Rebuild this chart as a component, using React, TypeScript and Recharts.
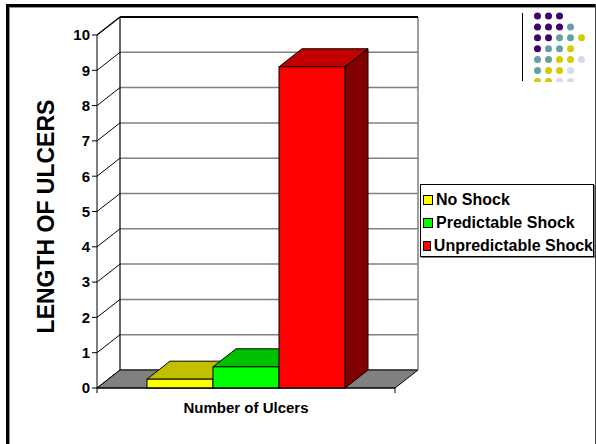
import React from 'react';
import {
  BarChart,
  Bar,
  XAxis,
  YAxis,
  CartesianGrid,
  ReferenceArea,
  Legend,
} from 'recharts';

// ---------- data ----------
const categories = ['Number of Ulcers'];
const seriesNames = ['No Shock', 'Predictable Shock', 'Unpredictable Shock'];
const noShock = [0.25];
const predictableShock = [0.6];
const unpredictableShock = [9.1];
const yTicks = [0, 1, 2, 3, 4, 5, 6, 7, 8, 9, 10];

const data = categories.map((name, i) => ({
  name,
  noShock: noShock[i],
  predictable: predictableShock[i],
  unpredictable: unpredictableShock[i],
}));

// ---------- styling ----------
const FONT = '"Liberation Sans", Arial, Helvetica, sans-serif';
const DX = 23;
const DY = -18;

const faces = {
  noShock: { front: '#ffff00', top: '#c0c000', side: '#808000' },
  predictable: { front: '#00ff00', top: '#00c000', side: '#008000' },
  unpredictable: { front: '#ff0000', top: '#c00000', side: '#800000' },
};

const make3DBar = (c: { front: string; top: string; side: string }) => (props: any) => {
  const { x, y, width, height } = props;
  if (x == null || y == null || !width || height == null) return <g />;
  const top = `${x},${y} ${x + DX},${y + DY} ${x + width + DX},${y + DY} ${x + width},${y}`;
  const side = `${x + width},${y} ${x + width + DX},${y + DY} ${x + width + DX},${y + height + DY} ${x + width},${y + height}`;
  return (
    <g>
      <polygon points={side} fill={c.side} stroke="#000" strokeWidth={1} strokeLinejoin="round" />
      <polygon points={top} fill={c.top} stroke="#000" strokeWidth={1} strokeLinejoin="round" />
      <rect x={x} y={y} width={width} height={height} fill={c.front} stroke="#000" strokeWidth={1} />
    </g>
  );
};

const gridLine = (props: any) => {
  const { x1, x2, y1, index } = props;
  return (
    <g key={`gl-${index}`}>
      <line x1={x1} y1={y1} x2={x1 + DX} y2={y1 + DY} stroke="#000" strokeWidth={1} />
      <line x1={x1 + DX} y1={y1 + DY} x2={x2 + DX} y2={y1 + DY} stroke="#808080" strokeWidth={1.5} />
    </g>
  );
};

const wallShape = (props: any) => {
  const { x, y, width: w, height: h } = props;
  if (x == null || y == null) return <g />;
  const b = y + h;
  const floor = `${x},${b} ${x + w},${b} ${x + w + DX},${b + DY} ${x + DX},${b + DY}`;
  return (
    <g>
      <polygon points={floor} fill="#808080" stroke="#000" strokeWidth={1} />
      <line x1={x + DX} y1={y + DY} x2={x + DX} y2={b + DY} stroke="#000" strokeWidth={1.2} />
      <line x1={x + w + DX} y1={y + DY} x2={x + w + DX} y2={b + DY} stroke="#808080" strokeWidth={1.5} />
      <line x1={x + DX} y1={y + DY} x2={x + w + DX} y2={y + DY} stroke="#000" strokeWidth={1.8} />
      <line x1={x} y1={y} x2={x + DX} y2={y + DY} stroke="#000" strokeWidth={1.2} />
      <line x1={x} y1={b} x2={x} y2={b + 5} stroke="#000" strokeWidth={1} />
      <line x1={x + w} y1={b} x2={x + w} y2={b + 5} stroke="#000" strokeWidth={1} />
    </g>
  );
};

const yLabel = (props: any) => {
  const vb = props.viewBox || {};
  const cx = vb.x - 11;
  const cy = vb.y + vb.height / 2 + 5;
  return (
    <text
      x={cx}
      y={cy}
      transform={`rotate(-90, ${cx}, ${cy})`}
      textAnchor="middle"
      dominantBaseline="central"
      fontFamily={FONT}
      fontWeight="bold"
      fontSize={23}
      fill="#000"
    >
      LENGTH OF ULCERS
    </text>
  );
};

const xLabel = (props: any) => {
  const vb = props.viewBox || {};
  return (
    <text
      x={vb.x + vb.width / 2}
      y={vb.y + 25}
      textAnchor="middle"
      fontFamily={FONT}
      fontWeight="bold"
      fontSize={15}
      fill="#000"
    >
      {categories[0]}
    </text>
  );
};

const legendContent = (props: any) => {
  const payload = props.payload || [];
  return (
    <div
      style={{
        boxSizing: 'border-box',
        width: 174,
        height: 73,
        border: '1px solid #000',
        boxShadow: '1px 1px 0 #808080',
        background: '#fff',
        padding: '3px 0 0 1px',
        fontFamily: FONT,
        fontWeight: 'bold',
        fontSize: 16,
        lineHeight: '23px',
        color: '#000',
      }}
    >
      {payload.map((p: any, i: number) => (
        <div key={i} style={{ display: 'flex', alignItems: 'center', whiteSpace: 'nowrap' }}>
          <span
            style={{
              display: 'inline-block',
              boxSizing: 'border-box',
              width: 10,
              height: 10,
              background: p.color,
              border: '1px solid #000',
              marginLeft: 1,
              marginRight: 3,
            }}
          />
          <span>{p.value}</span>
        </div>
      ))}
    </div>
  );
};

// decoration dots (top-right corner)
const P = '#400070';
const T = '#66a0a0';
const Y = '#d4cc00';
const L = '#d8d8ee';
const dotRows = [
  [P, P, P],
  [P, P, P, T],
  [P, P, T, T, Y],
  [P, T, T, Y],
  [T, T, Y, Y, L],
  [T, Y, Y, L],
  [Y, Y, L, L],
];

export default function App() {
  return (
    <div
      style={{
        position: 'absolute',
        left: 0,
        top: 0,
        width: 596,
        height: 444,
        background: '#fff',
        overflow: 'hidden',
      }}
    >
      <svg width={596} height={444} style={{ position: 'absolute', left: 0, top: 0 }}>
        <line x1={7.5} y1={4} x2={7.5} y2={444} stroke="#000" strokeWidth={3} />
        <line x1={6} y1={5.5} x2={596} y2={5.5} stroke="#000" strokeWidth={3} />
        <line x1={9.5} y1={7.5} x2={9.5} y2={444} stroke="#909090" strokeWidth={1} />
        <line x1={9} y1={7.5} x2={596} y2={7.5} stroke="#909090" strokeWidth={1} />
        <line x1={595.5} y1={4} x2={595.5} y2={444} stroke="#404040" strokeWidth={1} />
        <line x1={522.5} y1={13} x2={522.5} y2={81} stroke="#000" strokeWidth={1} />
        <defs>
          <clipPath id="dotclip">
            <rect x={525} y={8} width={70} height={74} />
          </clipPath>
        </defs>
        <g clipPath="url(#dotclip)">
          {dotRows.map((row, r) =>
            row.map((c, k) => (
              <circle key={`${r}-${k}`} cx={537.5 + k * 11} cy={16 + r * 10.9} r={3.5} fill={c} />
            ))
          )}
        </g>
      </svg>
      <div style={{ position: 'absolute', left: 0, top: 0 }}>
        <BarChart
          width={596}
          height={444}
          data={data}
          margin={{ top: 35, right: 201, bottom: 26, left: 57 }}
          barGap={0}
          barSize={66}
        >
          <CartesianGrid vertical={false} horizontal={gridLine} />
          <ReferenceArea y1={0} y2={10} ifOverflow="visible" shape={wallShape} zIndex={50} />
          <XAxis
            dataKey="name"
            height={30}
            tick={false}
            tickLine={false}
            axisLine={{ stroke: '#000', strokeWidth: 1 }}
            label={xLabel}
          />
          <YAxis
            domain={[0, 10]}
            ticks={yTicks}
            interval={0}
            width={40}
            tickSize={5}
            tickMargin={2}
            axisLine={{ stroke: '#000', strokeWidth: 1 }}
            tickLine={{ stroke: '#000', strokeWidth: 1 }}
            tick={{ fill: '#000', fontFamily: FONT, fontWeight: 'bold', fontSize: 15 }}
            label={yLabel}
          />
          <Legend
            layout="vertical"
            align="center"
            verticalAlign="middle"
            content={legendContent}
            wrapperStyle={{ left: 420, top: 184, width: 174, height: 73 }}
          />
          <Bar dataKey="noShock" name={seriesNames[0]} fill={faces.noShock.front} shape={make3DBar(faces.noShock)} isAnimationActive={false} />
          <Bar dataKey="predictable" name={seriesNames[1]} fill={faces.predictable.front} shape={make3DBar(faces.predictable)} isAnimationActive={false} />
          <Bar dataKey="unpredictable" name={seriesNames[2]} fill={faces.unpredictable.front} shape={make3DBar(faces.unpredictable)} isAnimationActive={false} />
        </BarChart>
      </div>
    </div>
  );
}
